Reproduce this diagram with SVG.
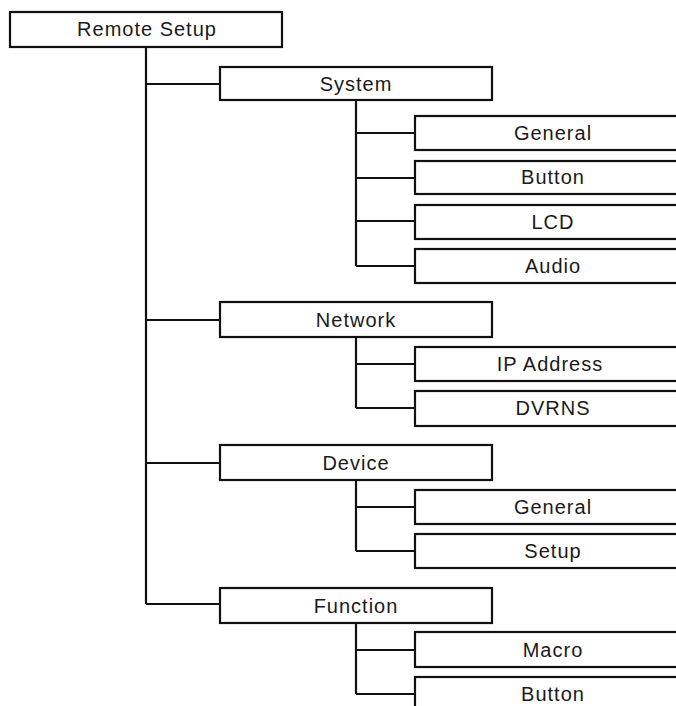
<svg xmlns="http://www.w3.org/2000/svg" width="676" height="706" viewBox="0 0 676 706">
<style>
rect{fill:#fff;stroke:#111;stroke-width:2.2}
text{font-family:"Liberation Sans",Arial,sans-serif;font-size:20px;letter-spacing:1px;fill:#1a1a1a;text-anchor:middle}
#connectors path{fill:none;stroke:#111;stroke-width:2.2}
</style>
<rect x="0" y="0" width="676" height="706" style="stroke:none;fill:#fff"/>
<g id="connectors">
<path d="M146 47V604M146 84H220M146 320H220M146 463H220M146 604H220"/>
<path d="M356 100V266M356 133H415M356 178H415M356 221H415M356 266H415"/>
<path d="M356 337V408M356 364H415M356 408H415"/>
<path d="M356 480V551M356 507H415M356 551H415"/>
<path d="M356 622V694M356 650H415M356 694H415"/>
</g>
<g id="remote-setup"><rect x="10" y="12" width="272" height="35"/><text x="147" y="36">Remote Setup</text></g>
<g id="system"><rect x="220" y="67" width="272" height="33"/><text x="356" y="91">System</text></g>
<g id="sys-general"><rect x="415" y="116" width="290" height="34"/><text x="553" y="140">General</text></g>
<g id="sys-button"><rect x="415" y="161" width="290" height="33"/><text x="553" y="184">Button</text></g>
<g id="sys-lcd"><rect x="415" y="205" width="290" height="34"/><text x="553" y="229">LCD</text></g>
<g id="sys-audio"><rect x="415" y="249" width="290" height="34"/><text x="553" y="273">Audio</text></g>
<g id="network"><rect x="220" y="302" width="272" height="35"/><text x="356" y="327">Network</text></g>
<g id="net-ip"><rect x="415" y="347" width="290" height="34"/><text x="550" y="371">IP Address</text></g>
<g id="net-dvrns"><rect x="415" y="391" width="290" height="35"/><text x="553" y="415">DVRNS</text></g>
<g id="device"><rect x="220" y="445" width="272" height="35"/><text x="356" y="470">Device</text></g>
<g id="dev-general"><rect x="415" y="490" width="290" height="34"/><text x="553" y="514">General</text></g>
<g id="dev-setup"><rect x="415" y="534" width="290" height="34"/><text x="553" y="558">Setup</text></g>
<g id="function"><rect x="220" y="588" width="272" height="35"/><text x="356" y="613">Function</text></g>
<g id="fn-macro"><rect x="415" y="632" width="290" height="35"/><text x="553" y="657">Macro</text></g>
<g id="fn-button"><rect x="415" y="677" width="290" height="40"/><text x="553" y="701">Button</text></g>
</svg>
